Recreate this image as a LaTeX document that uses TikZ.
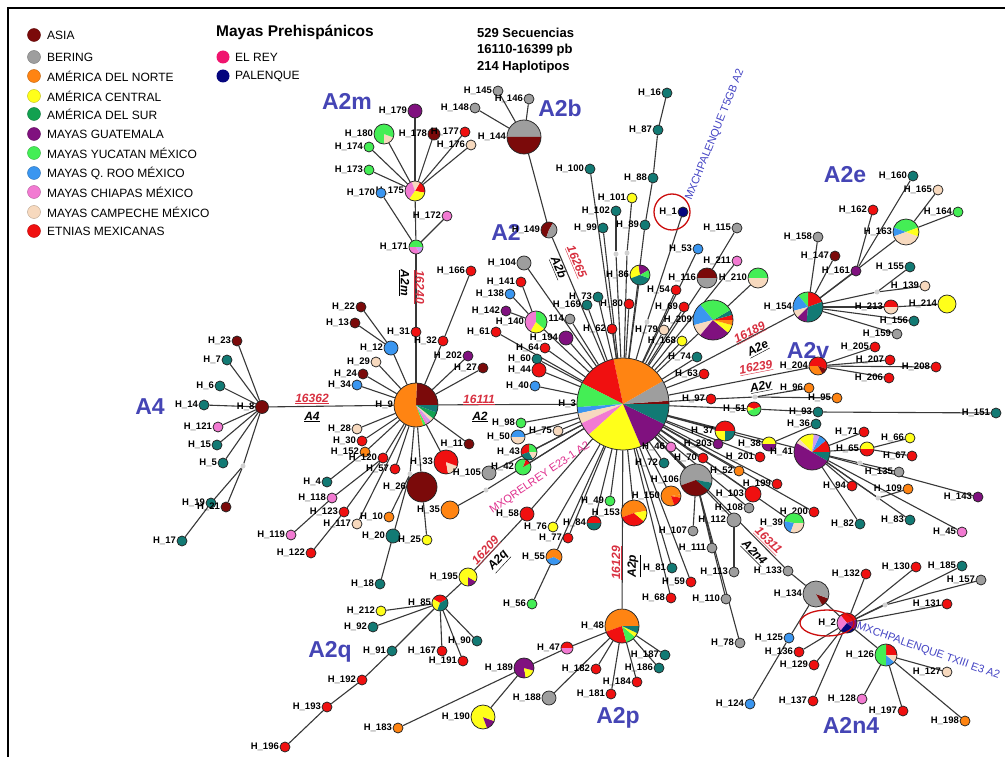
\documentclass[tikz,border=0pt]{standalone}
\usepackage{fontspec}
\setmainfont{Liberation Sans}
\usetikzlibrary{backgrounds}
\definecolor{asia}{HTML}{7B0A0A}
\definecolor{bering}{HTML}{9E9E9E}
\definecolor{norte}{HTML}{FF8412}
\definecolor{central}{HTML}{FFFF1A}
\definecolor{sur}{HTML}{12A150}
\definecolor{guat}{HTML}{80117F}
\definecolor{yuc}{HTML}{44EE55}
\definecolor{qroo}{HTML}{3A96F0}
\definecolor{chia}{HTML}{F27AD2}
\definecolor{camp}{HTML}{F7D9BE}
\definecolor{etn}{HTML}{F01010}
\definecolor{elrey}{HTML}{F0146E}
\definecolor{pal}{HTML}{05057E}
\definecolor{tl}{HTML}{127A74}
\definecolor{clade}{HTML}{4545B5}
\definecolor{mut}{HTML}{D83040}
\definecolor{lilac}{HTML}{CC99EE}
\definecolor{mxb}{HTML}{4444C4}
\definecolor{mxp}{HTML}{E0308E}
\tikzset{
 nd/.style={circle,draw=black!85,line width=0.75pt,inner sep=0pt,minimum size=10pt},
 med/.style={circle,fill=black!18,inner sep=0pt,minimum size=5pt},
 lab/.style={anchor=east,font=\fontsize{9.5}{10}\selectfont\bfseries,inner sep=0.6pt},
 edge/.style={draw=black!78,line width=1.1pt},
 cl/.style={font=\fontsize{23}{23}\selectfont\bfseries,text=clade,inner sep=0pt},
 mutr/.style={font=\fontsize{12}{12}\selectfont\bfseries\itshape,text=mut,inner sep=0pt},
 mutb/.style={font=\fontsize{12}{12}\selectfont\bfseries\itshape,text=black,inner sep=0pt},
 leg/.style={anchor=west,font=\fontsize{12}{12}\selectfont,inner sep=0pt},
 legc/.style={circle,inner sep=0pt,minimum size=13pt},
 mx/.style={font=\fontsize{11}{11}\selectfont,inner sep=0pt}
}
\newcommand\hn[4]{\node[nd,fill=#4] (h#1) at (#2,#3) {}; \node[lab] (l#1) at (h#1.west) {H\_#1};}
\newcommand\hb[5]{\node[nd,fill=#4,minimum size=#5*2pt] (h#1) at (#2,#3) {}; \node[lab] (l#1) at (h#1.west) {H\_#1};}
\newcommand\hp[5]{\foreach \pa/\pb/\pc in {#5}{\fill[\pc] (#2,#3) -- ++(\pa:#4pt) arc[start angle=\pa,end angle=\pb,radius=#4pt] -- cycle;}
 \node[nd,minimum size=#4*2pt] (h#1) at (#2,#3) {}; \node[lab] (l#1) at (h#1.west) {H\_#1};}
\newcommand\md[3]{\node[med] (h#1) at (#2,#3) {};}
\begin{document}
\begin{tikzpicture}[x=1pt,y=-1pt]
\useasboundingbox (0,0) rectangle (1005,757);
\draw[line width=2pt] (8,1000) -- (8,8) -- (1010,8);
% legend
\foreach \yy/\cc/\tt [count=\i] in {35/asia/ASIA,57/bering/BERING,76/norte/AMÉRICA DEL NORTE,96/central/AMÉRICA CENTRAL,114/sur/AMÉRICA DEL SUR,134/guat/MAYAS GUATEMALA,153/yuc/MAYAS YUCATAN MÉXICO,173/qroo/MAYAS Q. ROO MÉXICO,192/chia/MAYAS CHIAPAS MÉXICO,212/camp/MAYAS CAMPECHE MÉXICO,231/etn/ETNIAS MEXICANAS}{
 \node[legc,fill=\cc,draw=\cc!75!black,line width=0.4pt] (lg\i) at (34,\yy) {};
 \node[leg] (lt\i) at (47,\yy) {\tt};}
\node[anchor=west,font=\fontsize{15.5}{16}\selectfont\bfseries,inner sep=0pt] (mp) at (216,32) {Mayas Prehispánicos};
\node[legc,fill=elrey] (lrey) at (223,57) {};
\node[leg] (trey) at (235,57) {EL REY};
\node[legc,fill=pal] (lpal) at (223,76) {};
\node[leg] (tpal) at (235,76) {PALENQUE};
\node[anchor=west,font=\fontsize{13}{13}\selectfont\bfseries,inner sep=0pt] (s1) at (477,33) {529 Secuencias};
\node[anchor=west,font=\fontsize{13}{13}\selectfont\bfseries,inner sep=0pt] (s2) at (477,50) {16110-16399 pb};
\node[anchor=west,font=\fontsize{13}{13}\selectfont\bfseries,inner sep=0pt] (s3) at (477,67) {214 Haplotipos};
% clade labels
\node[cl] (cA2m) at (347,101) {A2m};
\node[cl] (cA2b) at (560,108) {A2b};
\node[cl] (cA2) at (506,232) {A2};
\node[cl] (cA2e) at (845,175) {A2e};
\node[cl] (cA2v) at (808,350) {A2v};
\node[cl] (cA4) at (150,407) {A4};
\node[cl] (cA2q) at (330,652) {A2q};
\node[cl] (cA2p) at (618,718) {A2p};
\node[cl] (cA2n4) at (851,725) {A2n4};
% ---------- nodes
% A4
\hb{8}{262}{407}{asia}{6.5}
\hn{23}{237}{341}{asia} \hn{7}{227}{360}{tl} \hn{6}{220}{386}{tl} \hn{14}{204}{405}{tl}
\hn{121}{218}{427}{chia} \hn{15}{217}{445}{tl} \hn{5}{223}{463}{tl}
\hn{19}{211}{503}{tl} \hn{21}{226}{507}{asia} \hn{17}{182}{541}{tl}
\md{m1}{243}{466}
% H_9
\hp{9}{416}{405}{22}{0/88/asia,88/290/norte,290/297/yuc,297/304/chia,304/313/lilac,313/322/camp,322/340/sur,340/360/tl}
\hn{166}{471}{271}{etn} \hn{31}{416}{332}{etn} \hn{32}{443}{341}{etn} \hn{202}{468}{356}{guat}
\hn{27}{483}{368}{asia} \hb{12}{391}{348}{qroo}{7} \hn{22}{361}{307}{asia} \hn{13}{355}{323}{asia}
\hn{29}{376}{362}{camp} \hn{24}{363}{374}{asia} \hn{34}{357}{385}{qroo} \hn{28}{357}{429}{camp}
\hn{30}{362}{441}{etn} \hn{152}{365}{452}{norte} \hn{120}{383}{458}{etn} \hn{57}{395}{469}{etn}
\hn{4}{327}{482}{tl} \hn{118}{332}{498}{chia} \hn{123}{344}{512}{etn} \hn{119}{291}{535}{chia}
\hn{122}{311}{553}{etn} \hn{117}{357}{524}{camp} \hn{10}{389}{517}{norte} \hb{20}{393}{536}{tl}{7}
\hn{25}{427}{540}{central} \hb{26}{422}{487}{asia}{15}
\hp{33}{446}{462}{12}{0/280/etn,280/340/camp,340/360/etn}
\hn{11}{469}{444}{asia} \hb{35}{450}{510}{norte}{9} \hb{105}{489}{473}{bering}{7} \hn{18}{380}{584}{tl}
\md{m2}{410}{474} \md{m3}{486}{490}
% A2m
\hp{175}{415}{191}{10}{-10/60/etn,60/110/camp,110/235/chia,235/350/central}
\hb{179}{415}{111}{guat}{7}
\hp{180}{384}{134}{10}{0/270/yuc,270/340/camp,340/360/yuc}
\hb{178}{434}{134}{asia}{6} \hn{177}{465}{132}{etn} \hn{176}{471}{145}{camp}
\hn{174}{369}{147}{yuc} \hn{173}{369}{170}{yuc} \hn{170}{381}{193}{qroo} \hn{172}{447}{216}{chia}
\hp{171}{416}{247}{7}{0/180/yuc,180/300/chia,300/360/lilac}
% A2b
\hp{144}{524}{137}{17}{0/180/bering,180/360/asia}
\hn{145}{498}{91}{bering} \hn{146}{529}{99}{bering} \hn{148}{475}{108}{bering}
\hp{149}{549}{230}{8}{60/250/asia,250/420/bering}
% top
\hn{16}{667}{93}{tl} \hn{87}{658}{130}{tl} \hn{88}{653}{178}{tl} \hn{89}{645}{225}{tl}
\hn{100}{590}{169}{tl} \hn{101}{632}{198}{central} \hn{102}{616}{211}{tl} \hn{99}{603}{228}{tl}
\hn{1}{683}{212}{pal} \hn{115}{737}{228}{bering} \hn{53}{698}{249}{qroo} \hn{211}{737}{261}{chia}
\hp{116}{707}{278}{10}{0/180/asia,180/360/bering}
\hp{210}{758}{278}{10}{0/180/yuc,180/360/camp}
\hp{86}{640}{275}{10}{30/100/guat,100/200/central,200/340/tl,340/390/yuc}
\hn{54}{676}{290}{etn} \hn{69}{684}{307}{etn}
\hp{209}{713}{320}{20}{0/15/etn,15/30/tl,30/130/yuc,130/195/qroo,195/230/camp,230/320/guat,320/345/central,345/360/norte}
\hn{79}{664}{330}{camp} \hn{168}{682}{341}{central} \hn{80}{629}{304}{etn} \hn{73}{598}{297}{tl}
\hn{169}{587}{305}{tl} \hn{114}{570}{319}{bering} \hn{62}{612}{329}{etn} \hb{194}{566}{338}{guat}{7}
\md{m4}{616}{254} \md{m5}{627}{253} \md{m6}{647}{322}
\hb{104}{524}{263}{bering}{7} \hn{141}{521}{282}{etn} \hn{138}{510}{294}{qroo} \hn{142}{506}{311}{guat}
\hp{140}{536}{322}{11}{90/240/chia,240/320/central,320/450/yuc}
\hn{61}{496}{332}{etn} \hn{64}{545}{348}{etn} \hn{60}{537}{359}{tl} \hb{44}{539}{370}{etn}{7}
\hn{40}{535}{386}{qroo} \hn{98}{521}{423}{yuc}
\hp{50}{518}{437}{7}{0/180/qroo,180/360/camp}
\hn{75}{558}{431}{camp}
\hp{43}{529}{452}{8}{0/90/yuc,90/200/etn,200/300/tl,300/360/camp}
\hp{42}{523}{467}{8}{0/30/yuc,30/70/etn,70/360/yuc}
% hub
\hp{3}{623}{404}{46}{0/4/asia,4/30/bering,30/102/norte,102/153/etn,153/184/yuc,184/192/qroo,192/205/camp,205/222/chia,222/293/central,293/334/guat,334/360/tl}
% right
\hn{74}{697}{357}{tl} \hn{63}{704}{374}{etn} \hn{97}{711}{399}{etn} \md{m7}{755}{397}
\hn{96}{809}{388}{norte} \hn{95}{837}{398}{norte}
\hp{51}{754}{409}{7}{20/160/etn,160/200/central,200/380/yuc}
\hn{93}{818}{412}{tl} \hn{151}{996}{413}{tl}
\hp{154}{808}{307}{15}{20/90/etn,90/130/yuc,130/195/qroo,195/225/camp,225/265/guat,265/380/tl}
\hn{147}{835}{256}{asia} \hn{161}{856}{271}{guat} \hn{155}{910}{267}{tl} \hn{139}{925}{286}{camp}
\md{m8}{877}{292}
\hp{213}{891}{307}{7}{0/180/etn,180/360/camp}
\hb{214}{947}{304}{central}{9} \hn{156}{914}{321}{tl} \hn{159}{897}{334}{bering}
\hn{158}{818}{237}{bering} \hn{162}{873}{210}{etn} \hn{160}{913}{176}{tl} \hn{165}{938}{190}{camp}
\hn{164}{958}{212}{yuc}
\hp{163}{906}{232}{13}{20/160/yuc,160/200/qroo,200/340/camp,340/380/central}
\hp{204}{818}{366}{9}{-20/180/etn,180/300/norte,300/340/asia}
\hn{205}{875}{347}{etn} \hn{207}{890}{360}{etn} \hn{208}{936}{367}{etn} \hn{206}{889}{378}{etn}
% lower right
\hp{37}{725}{431}{10}{0/180/etn,180/270/central,270/360/tl}
\hn{203}{718}{444}{guat} \hn{46}{671}{447}{chia} \hn{72}{664}{463}{tl} \hn{70}{703}{458}{etn}
\hn{36}{816}{424}{tl}
\hp{38}{769}{444}{7}{0/180/central,180/360/guat}
\hn{201}{760}{457}{etn}
\hp{41}{812}{452}{18}{0/40/etn,40/65/qroo,65/85/lilac,85/135/central,135/150/camp,150/330/guat,330/360/tl}
\hn{71}{864}{432}{etn}
\hp{65}{867}{449}{7}{0/180/central,180/360/etn}
\hn{66}{910}{438}{central} \hn{67}{912}{456}{etn} \hn{135}{899}{472}{bering} \hn{109}{908}{489}{norte}
\hn{143}{978}{497}{guat} \hn{94}{852}{486}{etn}
\md{m9}{860}{463} \md{m11}{878}{498}
\hn{52}{739}{471}{norte}
\hp{106}{696}{480}{16}{-10/200/bering,200/320/asia,320/350/tl}
\hp{150}{671}{496}{10}{10/290/norte,290/350/etn,350/370/norte}
\hn{199}{777}{484}{etn} \hb{103}{753}{494}{etn}{8} \hn{108}{749}{508}{bering} \hb{112}{734}{520}{bering}{7}
\hn{107}{693}{531}{bering} \hn{111}{712}{548}{bering} \hn{113}{734}{572}{bering} \hn{110}{726}{599}{bering}
\hn{78}{740}{643}{bering} \hn{200}{814}{512}{etn}
\hp{39}{794}{523}{10}{0/170/yuc,170/250/qroo,250/360/camp}
\hn{82}{860}{524}{tl} \hn{83}{910}{520}{tl} \hn{45}{962}{532}{chia}
\hn{81}{672}{568}{tl} \hn{59}{691}{582}{etn} \hn{68}{671}{598}{etn}
\hn{133}{788}{571}{bering}
\hp{134}{816}{594}{13}{0/300/bering,300/340/asia,340/360/bering}
\hp{2}{847}{623}{10}{20/130/etn,130/230/chia,230/320/pal,320/380/guat}
\hn{132}{866}{574}{etn} \hn{130}{916}{567}{etn} \hn{185}{962}{566}{tl} \hn{157}{981}{580}{bering}
\hn{131}{947}{604}{etn} \md{m12}{885}{605}
\hn{125}{789}{638}{qroo} \hn{136}{799}{652}{etn} \hn{129}{814}{665}{etn} \hn{124}{750}{704}{qroo}
\hn{137}{813}{701}{etn}
\hp{126}{886}{655}{11}{0/90/etn,90/270/yuc,270/320/qroo,320/360/camp}
\hn{127}{947}{672}{camp} \hn{128}{862}{699}{chia} \hn{197}{903}{711}{etn} \hn{198}{965}{721}{norte}
% lower middle
\hn{49}{610}{501}{yuc}
\hp{153}{634}{513}{13}{10/200/norte,200/320/etn,320/370/central}
\hp{84}{594}{523}{7}{0/180/etn,180/360/tl}
\hn{76}{553}{527}{central} \hn{77}{568}{538}{etn} \hb{58}{527}{514}{etn}{7}
\hp{55}{554}{557}{8}{0/200/norte,200/330/qroo,330/360/norte}
\hn{56}{532}{604}{yuc}
\hp{48}{622}{626}{17}{0/200/norte,200/285/etn,285/320/yuc,320/335/central,335/360/tl}
\hp{47}{567}{648}{6}{0/180/etn,180/360/chia}
\hp{189}{524}{668}{10}{0/280/guat,280/345/central,345/360/guat}
\hp{190}{483}{717}{12}{0/290/central,290/340/guat,340/360/central}
\hn{183}{398}{728}{norte} \hb{188}{549}{698}{bering}{7} \hn{182}{596}{669}{etn} \hn{181}{611}{694}{etn}
\hn{184}{637}{682}{etn} \hn{186}{659}{668}{tl} \hn{187}{665}{655}{tl}
\hp{195}{468}{577}{9}{0/270/central,270/330/guat,330/360/central}
\hp{85}{440}{603}{8}{30/150/etn,150/250/central,250/390/tl}
\hn{212}{381}{611}{central} \hn{92}{373}{627}{tl} \hn{91}{392}{651}{tl} \hn{167}{442}{651}{etn}
\hn{191}{463}{661}{etn} \hn{90}{477}{641}{tl} \hn{192}{362}{680}{etn} \hn{193}{327}{707}{etn}
\hn{196}{285}{747}{etn}
% red circles
\draw[etn!85!black,line width=1.3pt] (672,212) circle[radius=18pt];
\draw[etn!85!black,line width=1.3pt] (827,623) ellipse[x radius=27pt,y radius=13pt];
% mutation labels
\node[mutr] (u1) at (312,399) {\underline{16362}};
\node[mutb] (u2) at (312,417) {\underline{A4}};
\node[mutr] (u3) at (479,400) {\underline{16111}};
\node[mutb] (u4) at (480,417) {\underline{A2}};
\node[mutr,rotate=-90] (u5) at (419,287) {\underline{16240}};
\node[mutb,rotate=-90] (u6) at (404,283) {\underline{A2m}};
\node[mutr,rotate=-67] (u7) at (576,262) {\underline{16265}};
\node[mutb,rotate=-67] (u8) at (558,268) {\underline{A2b}};
\node[mutr,rotate=28] (u9) at (750,333) {\underline{16189}};
\node[mutb,rotate=28] (u10) at (758,349) {\underline{A2e}};
\node[mutr,rotate=11] (u11) at (756,368) {\underline{16239}};
\node[mutb,rotate=11] (u12) at (761,387) {\underline{A2v}};
\node[mutr,rotate=-45] (u13) at (768,541) {\underline{16311}};
\node[mutb,rotate=-45] (u14) at (754,553) {\underline{A2n4}};
\node[mutr,rotate=47] (u15) at (486,551) {\underline{16209}};
\node[mutb,rotate=47] (u16) at (499,561) {\underline{A2q}};
\node[mutr,rotate=90] (u17) at (617,563) {\underline{16129}};
\node[mutb,rotate=90] (u18) at (634,566) {\underline{A2p}};
% sample labels
\node[mx,text=mxb,rotate=68] (x1) at (715,135) {MXCHPALENQUE T5GB A2};
\node[mx,text=mxb,rotate=-19.5,anchor=west] (x2) at (857,626) {MXCHPALENQUE TXIII E3 A2};
\node[mx,text=mxp,rotate=34] (x3) at (540,478) {MXQRELREY E23-1 A2};
% ---------- edges
\begin{scope}[on background layer]
\fill[white] (0,0) rectangle (1005,757);
\foreach \pa/\pb in {8/23,8/7,8/6,8/14,8/121,8/15,8/5,8/m1,m1/19,19/17,m1/21,8/9,
 9/3,9/31,31/171,9/32,32/166,9/202,9/27,9/12,12/22,12/13,9/29,9/24,9/34,9/28,9/30,9/152,152/4,
 9/120,120/118,118/119,120/123,123/122,9/57,9/117,9/m2,m2/10,m2/20,20/18,9/26,26/25,9/33,9/11,
 3/m3,m3/35,
 171/175,171/170,171/172,175/179,175/180,175/178,175/177,175/176,175/174,175/173,
 144/145,144/146,144/148,144/149,149/3,
 3/89,89/88,88/87,87/16,3/m6,m6/1,3/m4,m4/102,3/m5,m5/101,3/99,3/100,3/86,3/80,3/73,3/169,
 3/104,3/114,3/140,140/141,140/138,140/142,3/62,3/194,3/61,3/64,3/60,3/44,3/40,3/98,3/50,3/75,
 3/43,3/42,3/105,3/53,3/116,116/115,3/211,3/209,209/210,3/54,3/69,3/79,3/168,3/74,3/63,
 3/97,97/m7,m7/96,m7/95,3/51,51/93,93/151,3/204,204/205,204/207,204/208,204/206,
 3/154,154/147,154/158,154/161,161/162,161/160,154/163,163/165,163/164,154/m8,m8/155,m8/139,
 154/213,213/214,154/156,154/159,
 3/37,3/203,3/46,3/72,3/70,3/38,38/36,3/201,3/41,41/71,41/65,65/66,65/67,41/m9,m9/135,41/m11,m11/109,
 41/143,41/94,41/82,41/83,41/45,
 3/52,3/106,106/107,106/111,106/110,106/78,3/150,3/199,3/103,3/108,3/112,112/113,3/200,3/39,
 3/81,3/59,3/68,3/133,133/134,134/2,134/125,125/124,2/132,2/130,2/185,2/m12,m12/157,2/131,
 2/136,2/129,2/137,2/126,126/127,126/128,126/197,126/198,
 3/49,3/153,3/84,3/76,3/77,3/55,55/56,3/58,58/195,195/85,85/212,85/92,85/91,91/192,192/193,
 193/196,85/167,85/191,85/90,3/48,48/47,47/189,189/183,189/190,48/188,48/182,48/181,48/184,
 48/186,48/187}
 \draw[edge] (h\pa) -- (h\pb);
\end{scope}
\end{tikzpicture}
\end{document}
